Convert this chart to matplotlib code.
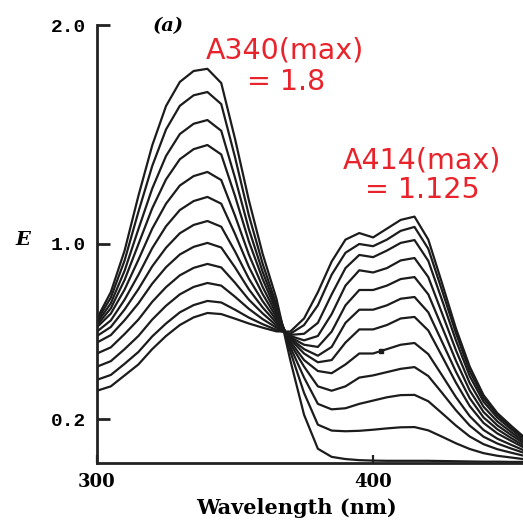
import matplotlib.pyplot as plt

# wavelength grid (nm) shared by every scan
wavelength = list(range(300, 456, 5))

# absorbance scans, first (highest 340 nm band) to last (highest 414 nm band)
scan_01 = [0.66, 0.78, 0.97, 1.22, 1.45, 1.63, 1.74, 1.79, 1.80,
           1.735, 1.48, 1.20, 0.955, 0.75,
           0.47, 0.22, 0.065, 0.028, 0.018, 0.013, 0.011, 0.010, 0.010, 0.010,
           0.010, 0.009, 0.008, 0.007, 0.006, 0.006, 0.005, 0.005]
scan_02 = [0.65, 0.755, 0.925, 1.147, 1.356, 1.523, 1.631, 1.679, 1.694,
           1.639, 1.396, 1.131, 0.910, 0.722,
           0.51, 0.32, 0.175, 0.148, 0.145, 0.147, 0.152, 0.158, 0.163, 0.164,
           0.149, 0.120, 0.090, 0.064, 0.045, 0.033, 0.025, 0.017]
scan_03 = [0.64, 0.729, 0.878, 1.068, 1.253, 1.402, 1.502, 1.549, 1.566,
           1.517, 1.302, 1.068, 0.873, 0.707,
           0.53, 0.39, 0.27, 0.245, 0.25, 0.27, 0.285, 0.30, 0.31, 0.311,
           0.282, 0.227, 0.171, 0.121, 0.086, 0.063, 0.047, 0.032]
scan_04 = [0.63, 0.706, 0.836, 0.999, 1.163, 1.295, 1.387, 1.433, 1.452,
           1.409, 1.219, 1.012, 0.840, 0.693,
           0.545, 0.44, 0.35, 0.33, 0.35, 0.39, 0.40, 0.415, 0.43, 0.438,
           0.397, 0.320, 0.241, 0.171, 0.120, 0.089, 0.066, 0.045]
scan_05 = [0.62, 0.682, 0.792, 0.928, 1.070, 1.184, 1.267, 1.310, 1.329,
           1.292, 1.129, 0.952, 0.804, 0.679,
           0.555, 0.47, 0.42, 0.41, 0.45, 0.50, 0.50, 0.52, 0.54, 0.548,
           0.497, 0.400, 0.301, 0.214, 0.151, 0.111, 0.083, 0.056]
scan_06 = [0.60, 0.651, 0.746, 0.859, 0.981, 1.081, 1.155, 1.196, 1.215,
           1.184, 1.046, 0.896, 0.771, 0.665,
           0.565, 0.50, 0.46, 0.47, 0.55, 0.61, 0.61, 0.63, 0.66, 0.667,
           0.605, 0.487, 0.367, 0.260, 0.183, 0.135, 0.101, 0.068]
scan_07 = [0.58, 0.621, 0.701, 0.794, 0.898, 0.983, 1.049, 1.087, 1.105,
           1.079, 0.966, 0.842, 0.739, 0.652,
           0.57, 0.52, 0.49, 0.53, 0.64, 0.70, 0.70, 0.72, 0.75, 0.758,
           0.688, 0.553, 0.417, 0.296, 0.208, 0.154, 0.114, 0.077]
scan_08 = [0.55, 0.584, 0.652, 0.729, 0.819, 0.894, 0.952, 0.987, 1.005,
           0.984, 0.893, 0.793, 0.710, 0.640,
           0.575, 0.54, 0.53, 0.60, 0.72, 0.79, 0.79, 0.81, 0.84, 0.849,
           0.770, 0.620, 0.467, 0.331, 0.233, 0.172, 0.128, 0.087]
scan_09 = [0.50, 0.528, 0.589, 0.655, 0.736, 0.803, 0.857, 0.891, 0.909,
           0.893, 0.823, 0.746, 0.683, 0.628,
           0.58, 0.56, 0.58, 0.68, 0.81, 0.88, 0.87, 0.89, 0.925, 0.936,
           0.849, 0.683, 0.515, 0.365, 0.257, 0.190, 0.141, 0.095]
scan_10 = [0.44, 0.465, 0.520, 0.580, 0.655, 0.718, 0.770, 0.804, 0.822,
           0.810, 0.759, 0.704, 0.657, 0.618,
           0.585, 0.59, 0.64, 0.77, 0.89, 0.95, 0.94, 0.97, 1.005, 1.018,
           0.923, 0.743, 0.560, 0.397, 0.280, 0.207, 0.154, 0.104]
scan_11 = [0.38, 0.402, 0.453, 0.507, 0.578, 0.637, 0.688, 0.721, 0.740,
           0.733, 0.700, 0.664, 0.634, 0.608,
           0.59, 0.63, 0.72, 0.86, 0.96, 1.00, 0.99, 1.02, 1.06, 1.078,
           0.978, 0.787, 0.593, 0.420, 0.296, 0.219, 0.163, 0.110]
scan_12 = [0.33, 0.35, 0.40, 0.45, 0.52, 0.58, 0.63, 0.665, 0.685,
           0.680, 0.659, 0.637, 0.618, 0.601,
           0.60, 0.66, 0.78, 0.92, 1.02, 1.05, 1.03, 1.07, 1.11, 1.125,
           1.02, 0.82, 0.615, 0.44, 0.31, 0.228, 0.17, 0.115]

scans = [scan_01, scan_02, scan_03, scan_04, scan_05, scan_06,
         scan_07, scan_08, scan_09, scan_10, scan_11, scan_12]

x_ticks = [300, 400]
y_ticks = [0.2, 1.0, 2.0]
y_tick_labels = ['0.2', '1.0', '2.0']

# small speck on one of the middle scans
speck = (403, 0.51)

W, H = 523, 520
fig = plt.figure(figsize=(W / 100, H / 100), dpi=100)
ax = fig.add_axes([97 / W, 57 / H, 426 / W, 438 / H])

for s in scans:
    ax.plot(wavelength, s, color='#1c1c1c', lw=1.6, solid_joinstyle='round')
ax.plot(*speck, 's', ms=2.5, color='#1c1c1c')

ax.set_xlim(300, 454.3)
ax.set_ylim(0, 2.0)
for side in ['top', 'right']:
    ax.spines[side].set_visible(False)
for side in ['left', 'bottom']:
    ax.spines[side].set_linewidth(2)
    ax.spines[side].set_color('#222222')

ax.set_xticks(x_ticks)
ax.set_xticklabels([str(t) for t in x_ticks], fontfamily='DejaVu Serif',
                   fontweight='bold', fontsize=13)
ax.set_yticks(y_ticks)
ax.set_yticklabels(y_tick_labels, fontfamily='Liberation Mono',
                   fontweight='bold', fontsize=14)
ax.tick_params(axis='y', direction='in', length=9, width=2, pad=8,
               color='#222222')
ax.tick_params(axis='x', direction='in', length=6, width=1.6, pad=7,
               color='#222222')

fig.text(23 / W, 1 - 240 / H, 'E', fontfamily='DejaVu Serif',
         fontstyle='italic', fontweight='bold', fontsize=14,
         ha='center', va='center')
fig.text(168 / W, 1 - 26 / H, '(a)', fontfamily='DejaVu Serif',
         fontstyle='italic', fontweight='bold', fontsize=14,
         ha='center', va='center')
fig.text(296 / W, 6 / H, 'Wavelength (nm)', fontfamily='DejaVu Serif',
         fontweight='bold', fontsize=15, ha='center', va='baseline')

red = '#e8232b'
peak_340 = max(scan_01)
peak_414 = max(scan_12)
fig.text(285 / W, 1 - 50 / H, 'A340(max)', color=red, fontsize=20.5,
         ha='center', va='center')
fig.text(286 / W, 1 - 82 / H, f'= {peak_340:g}', color=red, fontsize=20.5,
         ha='center', va='center')
fig.text(422 / W, 1 - 160 / H, 'A414(max)', color=red, fontsize=20.5,
         ha='center', va='center')
fig.text(422 / W, 1 - 190 / H, f'= {peak_414:g}', color=red, fontsize=20.5,
         ha='center', va='center')

fig.savefig('out.png', dpi=100)
